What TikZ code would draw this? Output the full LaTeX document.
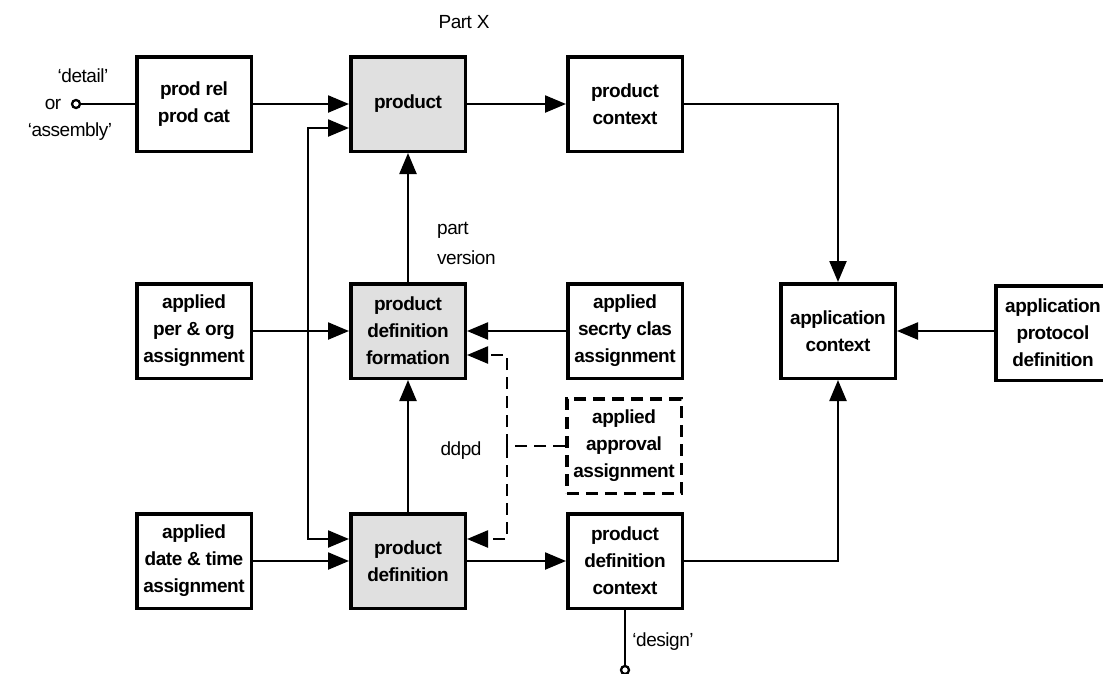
\documentclass[tikz,border=0pt]{standalone}
\usepackage{fontspec}
\setmainfont{Liberation Sans}
\newfontfamily\bxfont[LetterSpace=-2.5]{Liberation Sans}
\newfontfamily\lbfont[LetterSpace=-2.5]{Liberation Sans}
\usetikzlibrary{arrows.meta}
\begin{document}
\begin{tikzpicture}[x=1pt,y=-1pt,
 box/.style={draw,line width=3.5pt,minimum width=114.5pt,minimum height=94.5pt,align=center,
   font=\bxfont\bfseries\fontsize{19}{27}\selectfont,inner sep=0pt},
 gbox/.style={box,fill=black!12},
 tip/.tip={Triangle[length=21pt,width=17pt]},
 conn/.style={line width=2.3pt,-tip},
 dconn/.style={line width=2.3pt,dash pattern=on 12pt off 7pt,-tip},
 dline/.style={line width=2.3pt,dash pattern=on 12pt off 7pt},
 plain/.style={line width=2.3pt},
 lbl/.style={font=\lbfont\fontsize{19}{29}\selectfont,inner sep=0pt},
 circ/.style={draw,circle,line width=2.3pt,minimum size=8pt,inner sep=0pt,fill=white}]
\useasboundingbox (0,0) rectangle (1103,673);
\clip (0,0) rectangle (1103,673);

% nodes
\node[box]  (pr)   at (194,104) {prod rel\\prod cat};
\node[gbox] (prod) at (408,104) {product};
\node[box]  (pctx) at (625,104) {product\\context};
\node[box]  (apo)  at (194,331) {applied\\per \& org\\assignment};
\node[gbox] (pdf)  at (408,331) {product\\definition\\formation};
\node[box]  (sec)  at (625,331) {applied\\secrty clas\\assignment};
\node[box]  (ac)   at (838,331) {application\\context};
\node[box]  (apd)  at (1053,333) {application\\protocol\\definition};
\node[box,dash pattern=on 12pt off 7pt] (appr) at (624,446) {applied\\approval\\assignment};
\node[box]  (dt)   at (194,561) {applied\\date \& time\\assignment};
\node[gbox] (pd)   at (408,561) {product\\definition};
\node[box]  (pdc)  at (625,561) {product\\definition\\context};

% labels
\node[lbl] (partx) at (464,22) {Part X};
\node[lbl,align=left,anchor=west,font=\lbfont\fontsize{19}{30}\selectfont] (pv) at (437,243) {part\\version};
\node[lbl] (ddpd) at (461,451) {ddpd};
\node[lbl] (ldet) at (83,76) {‘detail’};
\node[lbl] (lor) at (53,104) {or};
\node[lbl] (lass) at (70,132) {‘assembly’};
\node[lbl] (ldes) at (663,642) {‘design’};
\node[circ] (c1) at (76,104) {};
\node[circ] (c2) at (625,670) {};

% connectors
\draw[plain] (c1) -- (pr);
\draw[conn] (pr) -- (prod);
\draw[conn] (prod) -- (pctx);
\draw[conn] (pctx.east) -| (ac.north);
\draw[line width=2.3pt,tip-tip] ([yshift=-24pt]prod.west) -- ++(-41,0) |- ([yshift=22pt]pd.west);
\draw[conn] (pdf) -- (prod);
\draw[conn] (apo) -- (pdf);
\draw[conn] (sec) -- (pdf);
\draw[conn] (apd.west |- ac.east) -- (ac.east);
\draw[conn] (pd) -- (pdf);
\draw[conn] (dt) -- (pd);
\draw[conn] (pd) -- (pdc);
\draw[conn] (pdc.east) -| (ac.south);
\draw[plain] (pdc.south) -- (c2);
\draw[dline] (appr.west) -- ++(-58,0) coordinate (dj);
\draw[dconn] (dj) |- ([yshift=-24pt]pdf.east);
\draw[dconn] (dj) |- ([yshift=22pt]pd.east);
\end{tikzpicture}
\end{document}
